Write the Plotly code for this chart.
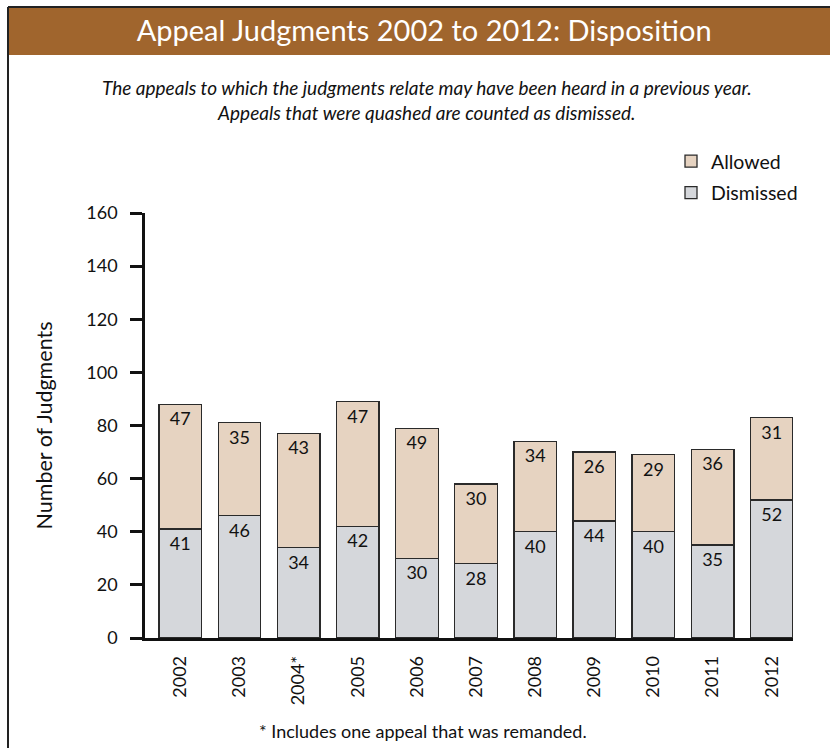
import plotly.graph_objects as go

years = ["2002", "2003", "2004", "2005", "2006", "2007", "2008", "2009", "2010", "2011", "2012"]
tick_labels = ["2002", "2003", "2004*", "2005", "2006", "2007", "2008", "2009", "2010", "2011", "2012"]
dismissed = [41, 46, 34, 42, 30, 28, 40, 44, 40, 35, 52]
allowed = [47, 35, 43, 47, 49, 30, 34, 26, 29, 36, 31]

FONT = "Lato, 'Open Sans', sans-serif"
W, H = 830, 748
L, R, T, B = 145, 37, 213, 110
pw, ph = W - L - R, H - T - B

def px_x(p):
    return (p - L) / pw

def px_y(p):
    return (H - B - p) / ph

label_font = dict(family=FONT, size=18, color="#111")

fig = go.Figure()
fig.add_trace(go.Bar(
    x=years, y=dismissed, name="Dismissed",
    marker=dict(color="#d5d7db", line=dict(color="#2a2a2a", width=1.3)),
    text=dismissed, textposition="inside", insidetextanchor="end", textangle=0,
    textfont=label_font, legendgroup="d", legendrank=2, hoverinfo="x+y",
))
fig.add_trace(go.Bar(
    x=years, y=allowed, name="Allowed",
    marker=dict(color="#e6d3c1", line=dict(color="#2a2a2a", width=1.3)),
    text=allowed, textposition="inside", insidetextanchor="end", textangle=0,
    textfont=label_font, legendgroup="a", legendrank=1, hoverinfo="x+y",
))

annotations = [
    dict(xref="paper", yref="paper", x=px_x(427), y=px_y(100),
         text="<i>The appeals to which the judgments relate may have been heard in a previous year.<br>Appeals that were quashed are counted as dismissed.</i>",
         showarrow=False, xanchor="center", yanchor="middle",
         font=dict(family=FONT, size=19, color="#111")),
    dict(xref="paper", yref="paper", x=px_x(423), y=px_y(731),
         text="* Includes one appeal that was remanded.",
         showarrow=False, xanchor="center", yanchor="middle",
         font=dict(family=FONT, size=18, color="#111")),
]

shapes = [
    dict(type="rect", xref="paper", yref="paper", x0=px_x(8.5), x1=px_x(832), y0=px_y(55), y1=px_y(8),
         fillcolor="#A0652D", line=dict(width=0), layer="below"),
    dict(type="line", xref="paper", yref="paper", x0=px_x(8), x1=px_x(832), y0=px_y(7), y1=px_y(7),
         line=dict(color="#222", width=2)),
    dict(type="line", xref="paper", yref="paper", x0=px_x(8), x1=px_x(8), y0=px_y(7), y1=px_y(750),
         line=dict(color="#222", width=2)),
]

fig.update_layout(
    width=W, height=H,
    margin=dict(l=L, r=R, t=T, b=B, autoexpand=False),
    paper_bgcolor="white", plot_bgcolor="white",
    barmode="stack", bargap=0.28,
    title=dict(text="Appeal Judgments 2002 to 2012: Disposition", x=0.511, xanchor="center",
               y=1 - 31 / H, yanchor="middle", yref="container",
               font=dict(family=FONT, size=29, color="white")),
    font=dict(family=FONT, size=18, color="#111"),
    showlegend=True,
    legend=dict(x=px_x(671), y=px_y(142), xanchor="left", yanchor="top",
                traceorder="grouped", tracegroupgap=3,
                font=dict(family=FONT, size=19.5, color="#111"), bgcolor="rgba(0,0,0,0)"),
    xaxis=dict(type="category", range=[-0.597, 10.36], tickvals=years, ticktext=tick_labels,
               tickangle=-90, showline=True, linecolor="#111", linewidth=2.5, ticks="",
               ticklabelstandoff=8,
               showgrid=False, zeroline=False, tickfont=dict(family=FONT, size=18, color="#111")),
    yaxis=dict(range=[0, 160], dtick=20, tick0=0, showline=True, linecolor="#111", linewidth=2.5,
               ticks="outside", ticklen=12, tickwidth=2.5, tickcolor="#111", showgrid=False, zeroline=False,
               ticklabelstandoff=9,
               tickfont=dict(family=FONT, size=18, color="#111"),
               title=dict(text="Number of Judgments", standoff=28, font=dict(family=FONT, size=21.5, color="#111"))),
    annotations=annotations,
    shapes=shapes,
)

fig.write_html("out.html", config={"displayModeBar": False},
               post_script="document.body.style.margin='0';document.body.style.overflow='hidden';")
